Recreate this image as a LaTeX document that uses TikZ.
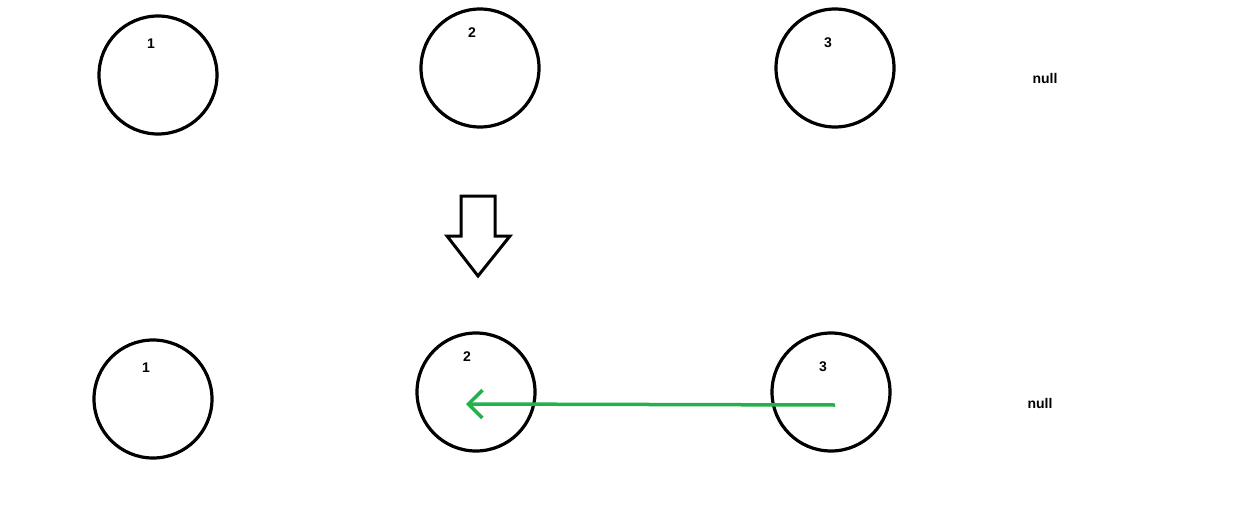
\documentclass[tikz,border=0pt]{standalone}
\usepackage{fontspec}
\setmainfont{Liberation Sans}
\usetikzlibrary{arrows.meta}
\begin{document}
\begin{tikzpicture}[x=1pt,y=-1pt,
  ring/.style={circle,draw=black,line width=3.2pt,minimum size=118pt,inner sep=0pt},
  lbl/.style={font=\bfseries\fontsize{14}{16}\selectfont,inner sep=0pt}]
\useasboundingbox (0,0) rectangle (1257,524);
\node[ring] (a1) at (158,75) {};
\node[ring] (a2) at (480,68) {};
\node[ring] (a3) at (835,68) {};
\node[lbl] (t1) at (151,44) {1};
\node[lbl] (t2) at (472,33) {2};
\node[lbl] (t3) at (828,43) {3};
\node[lbl] (n1) at (1045,78) {null};
\node[ring] (b1) at (153,399) {};
\node[ring] (b2) at (476,392) {};
\node[ring] (b3) at (831,392) {};
\node[lbl] (s1) at (146,368) {1};
\node[lbl] (s2) at (467,357) {2};
\node[lbl] (s3) at (823,367) {3};
\node[lbl] (n2) at (1040,403) {null};
\draw[line width=3pt,line join=miter] (461,196) -- (495,196) -- (495,236) -- (510,236) -- (478,276) -- (447,236) -- (461,236) -- cycle;
\coordinate (gs) at (835,405);
\coordinate (ge) at (466,404);
\draw[draw={rgb,255:red,34;green,177;blue,76},line width=3.5pt,-{Straight Barb[length=14pt,width=28pt,line width=3.5pt]}] (gs) -- (ge);
\end{tikzpicture}
\end{document}
